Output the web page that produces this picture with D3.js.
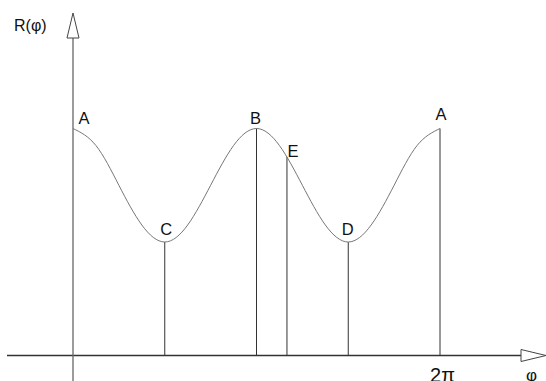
<!DOCTYPE html>
<html>
<head>
<meta charset="utf-8">
<script src="https://cdn.jsdelivr.net/npm/d3@7"></script>
<style>
  body { margin: 0; background: #fff; }
  svg { display: block; font-family: Arial, "Liberation Sans", sans-serif; }
</style>
</head>
<body>
<div id="chart"></div>
<script>
// curve samples: phi in units of pi, R
var phiSamples = [0, 0.125, 0.25, 0.375, 0.5, 0.625, 0.75, 0.875, 1, 1.125, 1.25, 1.375, 1.5, 1.625, 1.75, 1.875, 2];
var rSamples = [2, 1.85, 1.5, 1.15, 1, 1.15, 1.5, 1.85, 2, 1.85, 1.5, 1.15, 1, 1.15, 1.5, 1.85, 2];

// marked points
var pointNames = ["A", "C", "B", "E", "D", "A"];
var pointPhi = [0, 0.5, 1, 1.166, 1.5, 2];
var pointR = [2, 1, 2, 1.75, 1, 2];

var xTickLabel = "2π";
var xAxisLabel = "φ";
var yAxisLabel = "R(φ)";

var width = 546, height = 381;

var svg = d3.select( "#chart" ).append( "svg" )
  .attr( "width", width )
  .attr( "height", height );

var x = d3.scaleLinear().domain( [ 0, 2 ] ).range( [ 73, 440 ] );
var y = d3.scaleLinear().domain( [ 0, 2 ] ).range( [ 355.5, 128.5 ] );

var axisColor = "#333";

// x axis
svg.append( "line" )
  .attr( "x1", 7 ).attr( "y1", y( 0 ) )
  .attr( "x2", 521 ).attr( "y2", y( 0 ) )
  .style( "stroke", axisColor ).style( "stroke-width", 1.3 );

svg.append( "path" )
  .attr( "d", "M521," + ( y( 0 ) - 6 ) + " L546," + y( 0 ) + " L521," + ( y( 0 ) + 6 ) + " Z" )
  .style( "fill", "white" ).style( "stroke", "#444" ).style( "stroke-width", 1 );

// y axis
svg.append( "line" )
  .attr( "x1", x( 0 ) ).attr( "y1", 381 )
  .attr( "x2", x( 0 ) ).attr( "y2", 38 )
  .style( "stroke", "#666" ).style( "stroke-width", 1.3 );

svg.append( "path" )
  .attr( "d", "M" + ( x( 0 ) - 6 ) + ",38 L" + x( 0 ) + ",13 L" + ( x( 0 ) + 6 ) + ",38 Z" )
  .style( "fill", "white" ).style( "stroke", "#444" ).style( "stroke-width", 1 );

// vertical drop lines
svg.selectAll( ".drop" )
  .data( pointPhi.slice( 1 ) )
  .enter().append( "line" )
    .attr( "class", "drop" )
    .attr( "x1", d => x( d ) ).attr( "x2", d => x( d ) )
    .attr( "y1", ( d, i ) => y( pointR[ i + 1 ] ) )
    .attr( "y2", y( 0 ) )
    .style( "stroke", "#333" ).style( "stroke-width", 1 );

// the curve
var line = d3.line()
  .x( ( d, i ) => x( phiSamples[ i ] ) )
  .y( d => y( d ) )
  .curve( d3.curveNatural );

svg.append( "path" )
  .datum( rSamples )
  .attr( "d", line )
  .style( "fill", "none" )
  .style( "stroke", "#777" )
  .style( "stroke-width", 1 );

// point labels (dx, dy from the marked point)
var labelOffset = [ [ 11, -5 ], [ 1.5, -7 ], [ -1, -4.5 ], [ 6, 0 ], [ -0.5, -7 ], [ 1, -9 ] ];
pointNames.forEach( function( name, i ) {
  svg.append( "text" )
    .attr( "x", x( pointPhi[ i ] ) + labelOffset[ i ][ 0 ] )
    .attr( "y", y( pointR[ i ] ) + labelOffset[ i ][ 1 ] )
    .attr( "text-anchor", "middle" )
    .style( "font-size", "16.5px" )
    .style( "fill", "#111" )
    .text( name );
} );

// axis labels
svg.append( "text" )
  .attr( "x", x( 2 ) + 2.5 ).attr( "y", 381.5 )
  .attr( "text-anchor", "middle" )
  .style( "font-size", "20px" ).style( "fill", "#111" )
  .text( xTickLabel );

svg.append( "text" )
  .attr( "x", 531.5 ).attr( "y", 381 )
  .attr( "text-anchor", "middle" )
  .style( "font-size", "17px" ).style( "fill", "#111" )
  .text( xAxisLabel );

svg.append( "text" )
  .attr( "x", 14 ).attr( "y", 31 )
  .style( "font-size", "16px" ).style( "fill", "#111" )
  .text( yAxisLabel );
</script>
</body>
</html>
